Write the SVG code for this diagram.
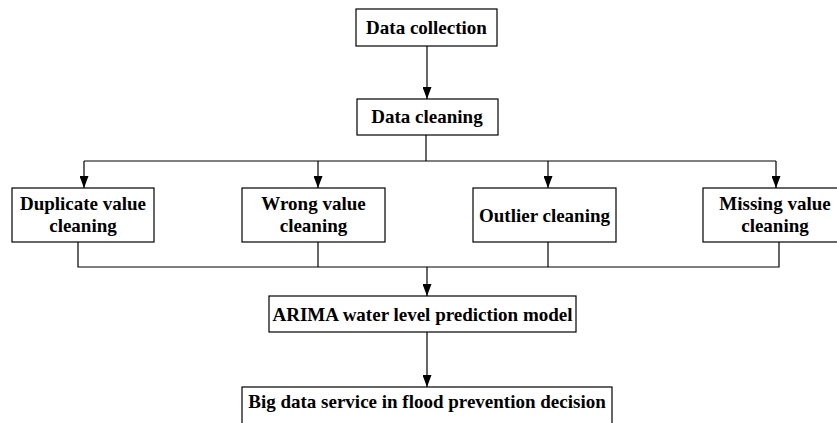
<svg xmlns="http://www.w3.org/2000/svg" width="837" height="423" viewBox="0 0 837 423">
<style>
.box{fill:#fff;stroke:#000;stroke-width:1.2}
.t{font-family:"Liberation Serif","Times New Roman",serif;font-weight:bold;font-size:19px;fill:#000;text-anchor:middle}
.c{fill:none;stroke:#000;stroke-width:1.2}
</style>
<defs>
<marker id="a" markerWidth="12" markerHeight="9" refX="12" refY="4.5" orient="auto" markerUnits="userSpaceOnUse">
<path d="M0,0 L12,4.5 L0,9 Z" fill="#000"/>
</marker>
</defs>
<rect width="837" height="423" fill="#fff"/>
<g id="connectors">
<path class="c" d="M427,46 V99" marker-end="url(#a)"/>
<path class="c" d="M426,135 V161"/>
<path class="c" d="M84,161 H776"/>
<path class="c" d="M84,161 V188" marker-end="url(#a)"/>
<path class="c" d="M318,161 V188" marker-end="url(#a)"/>
<path class="c" d="M548,161 V188" marker-end="url(#a)"/>
<path class="c" d="M776,161 V188" marker-end="url(#a)"/>
<path class="c" d="M78,242 V267 H779 V242"/>
<path class="c" d="M318,242 V267"/>
<path class="c" d="M548,242 V267"/>
<path class="c" d="M427,267 V296" marker-end="url(#a)"/>
<path class="c" d="M427,332 V387" marker-end="url(#a)"/>
</g>
<g id="data-collection">
<rect class="box" x="356" y="9" width="141" height="37"/>
<text class="t" x="426.5" y="34">Data collection</text>
</g>
<g id="data-cleaning">
<rect class="box" x="357" y="99" width="141" height="36"/>
<text class="t" x="427" y="123">Data cleaning</text>
</g>
<g id="duplicate">
<rect class="box" x="12" y="188" width="142" height="54"/>
<text class="t" x="83" y="210">Duplicate value</text>
<text class="t" x="83" y="232">cleaning</text>
</g>
<g id="wrong">
<rect class="box" x="242" y="188" width="143" height="54"/>
<text class="t" x="313.5" y="210">Wrong value</text>
<text class="t" x="313.5" y="232">cleaning</text>
</g>
<g id="outlier">
<rect class="box" x="473" y="188" width="143" height="54"/>
<text class="t" x="544.5" y="222">Outlier cleaning</text>
</g>
<g id="missing">
<rect class="box" x="703" y="188" width="145" height="54"/>
<text class="t" x="775" y="210">Missing value</text>
<text class="t" x="775" y="232">cleaning</text>
</g>
<g id="arima">
<rect class="box" x="269" y="296" width="307" height="36"/>
<text class="t" x="422.5" y="321">ARIMA water level prediction model</text>
</g>
<g id="big-data">
<rect class="box" x="242" y="387" width="370" height="45"/>
<text class="t" x="427" y="408">Big data service in flood prevention decision</text>
</g>
</svg>
